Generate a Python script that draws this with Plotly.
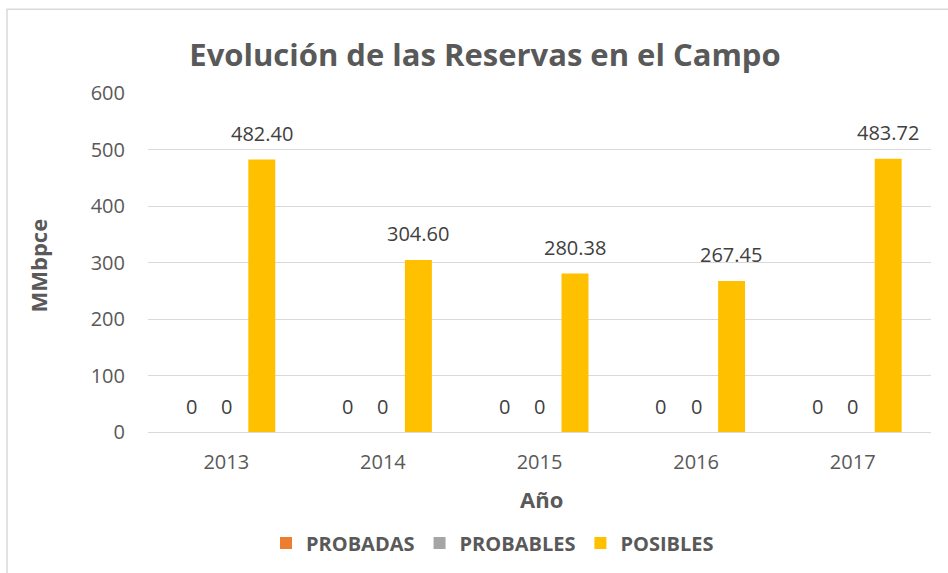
import plotly.graph_objects as go

years = ["2013", "2014", "2015", "2016", "2017"]
probadas = [0, 0, 0, 0, 0]
probables = [0, 0, 0, 0, 0]
posibles = [482.40, 304.60, 280.38, 267.45, 483.72]

FONT = "'Open Sans', sans-serif"
GREY = "#595959"
LABEL = "#404040"

fig = go.Figure()
series = [
    ("PROBADAS", probadas, "#ED7D31", "{:g}"),
    ("PROBABLES", probables, "#A5A5A5", "{:g}"),
    ("POSIBLES", posibles, "#FFC000", "{:.2f}"),
]
for i, (name, vals, color, fmt) in enumerate(series):
    fig.add_trace(go.Bar(
        x=years, y=vals, name=f"<b>{name}</b>",
        marker_color=color, marker_line_width=0,
    ))
    # data labels sit a bit higher than plotly's own outside text
    # (category index used for x: "2013" would be read as an index otherwise)
    for j, v in enumerate(vals):
        fig.add_annotation(x=j, y=v, text=fmt.format(v), showarrow=False,
                           xshift=(i - 1) * 35.3, yshift=26, yanchor="middle",
                           font=dict(size=20, color=LABEL, family=FONT))

fig.update_layout(
    width=948, height=573,
    margin=dict(l=148, r=17, t=93, b=140),
    paper_bgcolor="white", plot_bgcolor="white",
    barmode="group", bargap=0.32, bargroupgap=0.24,
    title=dict(text="<b>Evolución de las Reservas en el Campo</b>",
               x=485 / 948, xanchor="center", y=1 - 55 / 573, yanchor="middle",
               font=dict(size=31, color=GREY, family=FONT)),
    legend=dict(orientation="h", x=(266 - 148) / 783, xanchor="left",
                y=(433 - 543) / 340, yanchor="middle",
                font=dict(size=20, color=GREY, family=FONT),
                itemclick=False),
    font=dict(family=FONT, color=GREY),
    showlegend=True,
)
fig.update_yaxes(range=[0, 600], dtick=100, gridcolor="#D9D9D9", gridwidth=1,
                 zeroline=True, zerolinecolor="#D9D9D9", zerolinewidth=1,
                 showline=False, ticklabelstandoff=22,
                 tickfont=dict(size=20, color=GREY, family=FONT))
fig.update_xaxes(type="category", showline=False, ticks="", ticklabelstandoff=16,
                 tickfont=dict(size=20, color=GREY, family=FONT))

# axis titles
fig.add_annotation(text="<b>MMbpce</b>", xref="paper", yref="paper",
                   x=(38 - 148) / 783, y=(433 - 266) / 340, textangle=-90,
                   xanchor="center", yanchor="middle",
                   showarrow=False, font=dict(size=22, color=GREY, family=FONT))
fig.add_annotation(text="<b>Año</b>", xref="paper", yref="paper",
                   x=(541 - 148) / 783, y=(433 - 500) / 340,
                   xanchor="center", yanchor="middle",
                   showarrow=False, font=dict(size=22, color=GREY, family=FONT))

# chart border
fig.add_shape(type="rect", xref="paper", yref="paper",
              x0=(7 - 148) / 783, x1=1.2, y0=-0.6, y1=1 + (93 - 9) / 340,
              line=dict(color="#D9D9D9", width=1.5), layer="below")

fig.write_html("out.html", config={"displayModeBar": False},
               post_script="document.body.style.margin='0';")
